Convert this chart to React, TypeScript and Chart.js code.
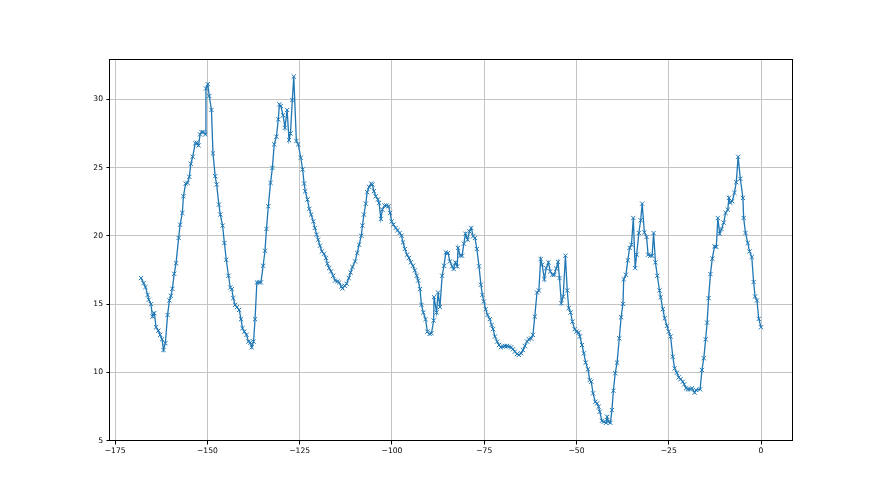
import React, { useEffect, useRef } from "react";
import { Chart, registerables } from "chart.js";

Chart.register(...registerables);

const xValues: number[] = [
  -168.0, -167.3, -166.8, -166.2, -165.9, -165.3, -164.9, -164.4, -163.9, -163.3,
  -162.8, -162.3, -161.9, -161.4, -160.8, -160.3, -159.9, -159.5, -159.0, -158.5,
  -157.8, -157.4, -156.8, -156.5, -155.9, -155.4, -154.9, -154.5, -154.0, -153.3,
  -152.9, -152.4, -152.0, -151.6, -151.1, -150.6, -150.4, -149.9, -149.5, -148.9,
  -148.5, -147.9, -147.5, -146.9, -146.5,
  -145.9, -145.4, -144.9, -144.3, -143.8, -143.4, -143.0, -142.5, -142.0, -141.4,
  -140.9, -140.5, -140.0, -139.4, -138.9, -138.4, -138.0, -137.5, -137.1, -136.6,
  -136.0, -135.5, -134.9, -134.4, -134.0, -133.5, -132.9, -132.4, -131.9, -131.3,
  -130.8, -130.5, -130.1, -129.5, -129.0, -128.4, -127.9, -127.5, -127.0, -126.6,
  -125.9, -125.4,
  -124.7, -124.2, -123.8, -123.5, -122.9, -122.4, -121.9, -121.3, -120.9, -120.4,
  -120.0, -119.5, -119.0, -118.4, -117.9, -117.5, -117.0, -116.5, -115.9, -115.4,
  -114.8, -114.3, -113.7, -113.4, -112.8, -112.3, -111.7, -111.2, -110.7, -110.0,
  -109.4, -108.9, -108.3, -108.0, -107.6, -107.1, -106.7, -106.2, -105.6, -105.3,
  -104.9, -104.4, -103.8, -103.5, -103.0, -102.6, -102.0, -101.5, -100.9,
  -100.5, -100.1, -99.6, -99.0, -98.5, -97.9, -97.4, -97.0, -96.5, -95.9,
  -95.4, -94.9, -94.3, -93.8, -93.3, -92.9, -92.4, -92.0, -91.5, -90.9,
  -90.4, -89.8, -89.3, -88.7, -88.6, -87.9, -87.5, -87.0, -86.4, -85.9,
  -85.4, -84.8, -84.3, -83.7, -83.3, -82.8, -82.3, -82.1, -81.5, -81.0,
  -80.5, -80.1, -79.5, -79.0, -78.5, -78.0,
  -77.5, -77.0, -76.4, -75.9, -75.5, -75.1, -74.6, -74.1, -73.5, -73.0,
  -72.6, -72.1, -71.5, -71.0, -70.5, -69.9, -69.4, -68.8, -68.3, -67.7,
  -67.2, -66.7, -66.1, -65.6, -65.0, -64.5, -64.0, -63.4, -62.9, -62.3,
  -61.8, -61.3, -60.7, -60.2, -59.7, -59.3, -58.7, -58.2, -57.6, -57.1,
  -56.5, -56.0, -55.5, -55.0,
  -54.6, -54.1, -53.6, -53.0, -52.5, -52.1, -51.6, -51.1, -50.5, -50.0,
  -49.4, -49.1, -48.5, -48.0, -47.5, -46.9, -46.4, -46.0, -45.5, -44.9,
  -44.4, -44.0, -43.7, -43.1, -42.6, -42.0, -41.7, -41.3, -40.8, -40.4,
  -40.0, -39.5, -39.0, -38.4, -37.9, -37.4, -37.2, -36.6, -36.1, -35.6,
  -35.1, -34.6, -34.1, -33.7, -33.1, -32.6, -32.2, -31.6, -31.0, -30.6,
  -30.0, -29.5, -29.1, -28.6, -28.1, -27.5, -27.2, -26.6, -26.1, -25.5,
  -25.0, -24.5, -23.9, -23.4, -22.8, -22.3, -21.8, -21.2, -20.8, -20.3,
  -19.8, -19.2, -18.7, -18.0, -17.6, -16.5, -16.0, -15.5, -15.0, -14.6,
  -14.2, -13.7, -13.2, -12.6, -12.1, -11.7, -11.2, -10.7, -10.1, -9.6,
  -9.0, -8.7, -8.3, -7.8, -7.2, -6.7, -6.2, -5.6, -4.9, -4.7,
  -4.2, -3.6, -3.1, -2.5, -2.0, -1.6, -1.1, -0.6, 0.0,
];

const yValues: number[] = [
  16.91, 16.54, 16.25, 15.68, 15.32, 15.0, 14.09, 14.34, 13.31, 13.06,
  12.75, 12.43, 11.64, 12.14, 14.21, 15.27, 15.61, 16.12, 17.22, 18.0,
  19.85, 20.82, 21.68, 22.9, 23.83, 23.88, 24.32, 25.28, 25.79, 26.77,
  26.82, 26.62, 27.43, 27.6, 27.6, 27.43, 30.79, 31.1, 30.24, 29.22,
  26.04, 24.37, 23.76, 22.29, 21.56,
  20.75, 19.48, 18.25, 17.08, 16.22, 16.1, 15.44, 14.95, 14.78, 14.58,
  13.9, 13.24, 12.99, 12.75, 12.26, 12.19, 11.84, 12.26, 13.9, 16.59,
  16.59, 16.59, 17.81, 18.91, 20.51, 22.17, 23.88, 24.98, 26.7, 27.26,
  28.53, 29.63, 29.51, 28.83, 27.92, 29.22, 27.01, 27.5, 29.95, 31.67,
  26.95, 26.7,
  25.72, 24.86, 23.83, 23.27, 22.66, 21.97, 21.56, 21.06, 20.58, 20.09,
  19.72, 19.28, 18.86, 18.69, 18.38, 17.96, 17.64, 17.4, 17.08, 16.73,
  16.66, 16.59, 16.29, 16.15, 16.34, 16.49, 16.91, 17.32, 17.72, 18.13,
  18.75, 19.35, 20.01, 20.75, 21.56, 22.36, 23.2, 23.59, 23.83, 23.76,
  23.27, 22.9, 22.66, 22.42, 21.24, 21.92, 22.22, 22.22, 22.17,
  21.68, 21.06, 20.82, 20.58, 20.41, 20.21, 20.01, 19.52, 19.04, 18.62,
  18.38, 18.06, 17.81, 17.47, 17.08, 16.73, 16.1, 14.95, 14.39, 13.9,
  12.99, 12.82, 12.87, 13.8, 15.51, 14.39, 15.85, 14.78, 17.08, 17.81,
  18.79, 18.75, 18.13, 17.77, 17.57, 18.06, 17.77, 19.12, 18.55, 18.55,
  19.43, 20.16, 19.72, 20.33, 20.58, 19.97,
  19.85, 19.04, 17.77, 16.42, 15.68, 15.19, 14.63, 14.21, 13.9, 13.48,
  13.17, 12.63, 12.26, 12.01, 11.84, 11.89, 11.94, 11.94, 11.89, 11.84,
  11.7, 11.52, 11.35, 11.28, 11.4, 11.64, 11.94, 12.26, 12.43, 12.48,
  12.75, 14.09, 15.85, 16.0, 18.3, 17.89, 16.83, 17.64, 18.06, 17.4,
  17.15, 17.15, 17.6, 18.1,
  16.91, 15.07, 15.56, 18.55, 16.0, 14.71, 14.39, 13.72, 13.17, 12.99,
  12.92, 12.63, 12.01, 11.4, 10.72, 10.23, 9.44, 9.32, 8.47, 7.85,
  7.73, 7.49, 7.12, 6.46, 6.39, 6.31, 6.75, 6.39, 6.31, 7.24,
  8.66, 9.94, 10.72, 12.5, 14.04, 15.02, 16.83, 17.15, 18.21, 19.12,
  19.35, 21.31, 17.64, 18.62, 20.21, 21.14, 22.36, 20.26, 19.92, 18.62,
  18.55, 18.55, 20.21, 18.06, 17.08, 16.0, 15.51, 14.63, 13.97, 13.41,
  12.99, 12.63, 11.15, 10.3, 9.98, 9.64, 9.5, 9.32, 9.13, 8.84,
  8.76, 8.76, 8.84, 8.52, 8.72, 8.76, 10.18, 11.04, 12.43, 13.65,
  15.44, 17.2, 18.33, 19.23, 19.19, 21.31, 20.16, 20.5, 20.97, 21.68,
  21.92, 22.78, 22.42, 22.54, 23.15, 23.93, 25.79, 24.18, 22.78, 21.31,
  20.21, 19.48, 18.86, 18.45, 16.62, 15.56, 15.27, 13.92, 13.31,
];

const xTicks: number[] = [-175, -150, -125, -100, -75, -50, -25, 0];
const yTicks: number[] = [5, 10, 15, 20, 25, 30];

const fmt = (v: number) => (v < 0 ? "\u2212" + Math.abs(v) : String(v));

const framePlugin = {
  id: "frame",
  afterDraw(chart: any) {
    const { ctx, chartArea: a } = chart;
    ctx.save();
    ctx.strokeStyle = "#000";
    ctx.lineWidth = 1;
    ctx.strokeRect(
      Math.round(a.left) - 0.5,
      Math.round(a.top) + 0.5,
      Math.round(a.right - a.left) + 1,
      Math.round(a.bottom - a.top) - 1
    );
    ctx.restore();
  },
};

export default function App() {
  const ref = useRef<HTMLCanvasElement | null>(null);

  useEffect(() => {
    if (!ref.current) return;
    const font = { family: "'DejaVu Sans', sans-serif", size: 7.6 };
    const chart = new Chart(ref.current, {
      type: "line",
      data: {
        datasets: [
          {
            data: xValues.map((x, i) => ({ x, y: yValues[i] })),
            borderColor: "#1f77b4",
            borderWidth: 1.3,
            pointStyle: "crossRot",
            pointRadius: 3,
            pointBorderWidth: 1,
            pointBorderColor: "#1f77b4",
            pointBackgroundColor: "#1f77b4",
            tension: 0,
            fill: false,
          },
        ],
      },
      options: {
        animation: false,
        responsive: false,
        events: [],
        layout: { padding: { top: 59, right: 88, bottom: 0, left: 0 } },
        plugins: { legend: { display: false }, tooltip: { enabled: false } },
        scales: {
          x: {
            type: "linear",
            min: -176.4,
            max: 8.4,
            afterFit: (s: any) => {
              s.height = 54;
            },
            afterBuildTicks: (s: any) => {
              s.ticks = xTicks.map((v) => ({ value: v }));
            },
            grid: {
              color: "#c4c4c4",
              lineWidth: 1,
              tickColor: "#000",
              tickLength: 3.5,
            },
            border: { display: false },
            ticks: {
              color: "#000",
              font,
              padding: 2,
              maxRotation: 0,
              autoSkip: false,
              callback: (v: any) => fmt(Number(v)),
            },
          },
          y: {
            type: "linear",
            min: 4.98,
            max: 32.95,
            afterFit: (s: any) => {
              s.width = 110;
            },
            afterBuildTicks: (s: any) => {
              s.ticks = yTicks.map((v) => ({ value: v }));
            },
            grid: {
              color: "#c4c4c4",
              lineWidth: 1,
              tickColor: "#000",
              tickLength: 3.5,
            },
            border: { display: false },
            ticks: {
              color: "#000",
              font,
              padding: 3.5,
              autoSkip: false,
              callback: (v: any) => fmt(Number(v)),
            },
          },
        },
      },
      plugins: [framePlugin],
    });
    return () => chart.destroy();
  }, []);

  return (
    <div style={{ position: "absolute", left: 0, top: 0, width: 880, height: 495, background: "#fff" }}>
      <canvas ref={ref} width={880} height={495} style={{ width: 880, height: 495 }} />
    </div>
  );
}
